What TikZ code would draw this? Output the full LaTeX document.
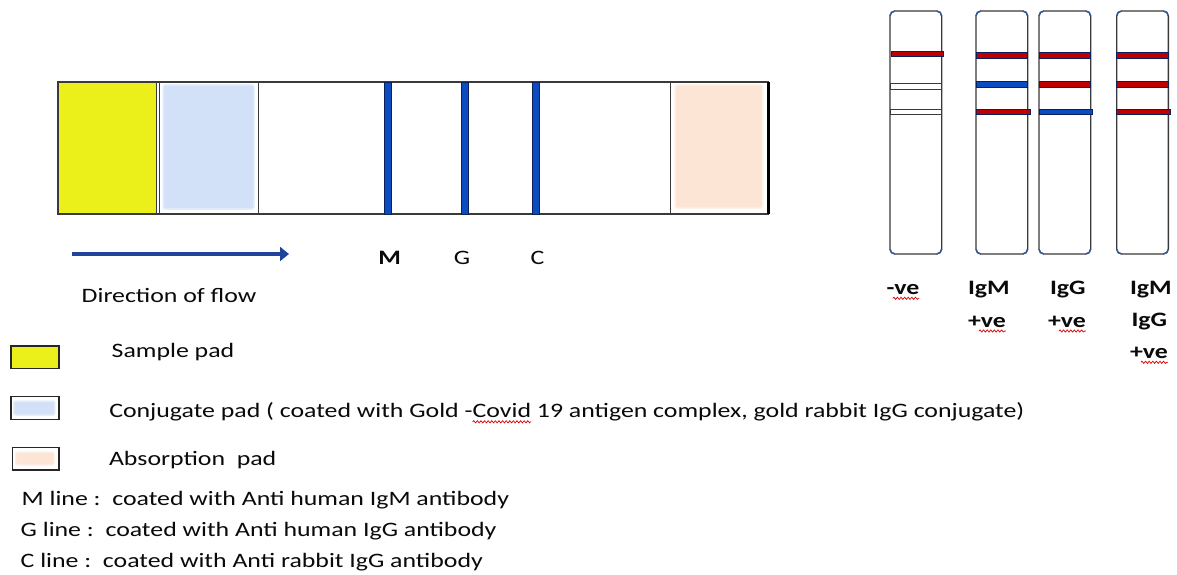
\documentclass[tikz,border=0pt]{standalone}
\usepackage{fontspec}
\setmainfont{Carlito}[FakeStretch=1.26]
\usetikzlibrary{arrows.meta,decorations.pathmorphing,calc}

\definecolor{padyellow}{HTML}{EBF01B}
\definecolor{padblue}{HTML}{D2E1F8}
\definecolor{padpeach}{HTML}{FDE5D5}
\definecolor{lineblue}{HTML}{0B4CC0}
\definecolor{linenavy}{HTML}{0A1F5C}
\definecolor{bandred}{HTML}{C00000}
\definecolor{arrowblue}{HTML}{1F449A}
\definecolor{edgegray}{HTML}{3A3A3A}
\definecolor{cornerblue}{HTML}{2F5AA8}
\definecolor{inktext}{HTML}{0A0A0A}

\begin{document}
\begin{tikzpicture}[x=1pt,y=-1pt,
  txt/.style={anchor=base west, inner sep=0pt, outer sep=0pt, text=inktext,
              font=\fontsize{20.5}{24}\selectfont},
  lbl/.style={txt, font=\fontsize{20.5}{24}\selectfont\bfseries},
  cell/.style={anchor=north west, draw=edgegray, line width=1.2pt, inner sep=0pt,
               outer sep=0pt, minimum height=132},
  softpad/.style={anchor=north west, inner sep=0pt, outer sep=0pt, rounded corners=2pt,
                  draw=#1!55!white, line width=1.5pt, fill=#1},
  testline/.style={fill=lineblue, draw=linenavy, line width=0.8pt, inner sep=0pt,
                   outer sep=0pt, minimum width=7, minimum height=132},
  keybox/.style={anchor=north west, draw=black!85, line width=1.3pt, inner sep=0pt,
                 outer sep=0pt, fill=white},
  flowarrow/.style={draw=arrowblue, line width=4pt,
                    -{Triangle[length=9pt,width=14pt]}},
  teststrip/.style={draw=edgegray, line width=1.3pt, rounded corners=5pt, fill=white,
                    inner sep=0pt, outer sep=0pt, minimum width=51.7, minimum height=243},
  redband/.style={fill=bandred, draw=linenavy, line width=0.8pt},
  blueband/.style={fill=lineblue, draw=linenavy, line width=0.8pt},
  emptyband/.style={fill=white, draw=edgegray, line width=0.9pt},
  squiggle/.style={draw=red!85!black, line width=0.7pt,
                   decorate, decoration={snake, amplitude=1.1pt, segment length=3.6pt}}
]
\useasboundingbox (0,0) rectangle (1177,575);
\fill[white] (0,0) rectangle (1177,575);

% ---------- lateral flow strip ----------
\node[cell, minimum width=710] (strip) at (58,82) {};
\node[cell, fill=padyellow, minimum width=98.5] (sample) at (58,82) {};
\node[cell, minimum width=98.8] (conj) at (159.5,82) {};
\node[softpad=padblue, minimum width=91, minimum height=124] (conjfill) at (163,85) {};
\node[cell, minimum width=97.3] (absorb) at (670.7,82) {};
\node[softpad=padpeach, minimum width=87.7, minimum height=123] (absfill) at (675,85) {};
\draw[black, line width=3pt] (strip.north east) -- (strip.south east);

% capture lines
\node[testline] (mline) at (388,148) {};
\node[testline] (gline) at (464.5,148) {};
\node[testline] (cline) at (535.5,148) {};
\node[lbl, anchor=base] (mlbl) at (389.7,264.3) {M};
\node[txt, anchor=base] (glbl) at (462,264.3) {G};
\node[txt, anchor=base] (clbl) at (537.5,264.3) {C};

% flow direction
\coordinate (flowstart) at (72,254);
\coordinate (flowend) at (289,254);
\draw[flowarrow] (flowstart) -- (flowend);
\node[txt] (flowtxt) at (81.7,302.5) {Direction of flow};

% ---------- legend ----------
\node[keybox, fill=padyellow, minimum width=48, minimum height=22.3] (keysample) at (11,346) {};
\node[keybox, minimum width=48, minimum height=22.6] (keyconj) at (11,396.7) {};
\node[softpad=padblue, minimum width=41, minimum height=14] (keyconjfill) at (13.8,401) {};
\node[keybox, minimum width=46.7, minimum height=22.7] (keyabs) at (12.3,447.3) {};
\node[softpad=padpeach, minimum width=38.5, minimum height=13] (keyabsfill) at (15.5,452) {};

\node[txt] (tsample) at (111.7,357.7) {Sample pad};
\node[txt] (tconj1) at (109.3,417.3) {Conjugate pad ( coated with Gold -};
\node[txt] (tconj2) at (tconj1.base east) {Covid};
\node[txt] (tconj3) at (tconj2.base east) {\ 19 antigen complex, gold rabbit IgG conjugate)};
\draw[squiggle] ($(tconj2.base west)+(0,4.5)$) -- ($(tconj2.base east)+(0,4.5)$);
\node[txt] (tabs) at (109,465) {Absorption\ \ pad};

\node[txt] (tmline) at (21.7,505) {M line :\ \ coated with Anti human IgM antibody};
\node[txt] (tgline) at (20.7,536) {G line :\ \ coated with Anti human IgG antibody};
\node[txt] (tcline) at (20.7,567) {C line :\ \ coated with Anti rabbit IgG antibody};

% ---------- result strips ----------
\foreach \n/\cx in {s1/915.8, s2/1001.8, s3/1064.8, s4/1142.5} {
  \node[teststrip] (\n) at (\cx,132.5) {};
  \begin{scope}
    \clip ($(\n.north west)+(-2,-2)$) rectangle +(7,7)
          ($(\n.north east)+(2,-2)$) rectangle +(-7,7)
          ($(\n.south west)+(-2,2)$) rectangle +(7,-7)
          ($(\n.south east)+(2,2)$) rectangle +(-7,-7);
    \draw[cornerblue, line width=1.4pt, rounded corners=5pt]
      (\n.south west) rectangle (\n.north east);
  \end{scope}
}

% negative: control only
\draw[redband] (891,51.5) rectangle (943,56.5);
\draw[emptyband] (890,83.3) rectangle (941.7,89.3);
\draw[emptyband] (890,109.3) rectangle (941.7,114.3);
% IgM positive
\draw[redband] (976,52.7) rectangle (1027.7,58.3);
\draw[blueband] (976,81.7) rectangle (1027.7,87.3);
\draw[redband] (976,109) rectangle (1030,114.3);
% IgG positive
\draw[redband] (1039,52.7) rectangle (1090.7,58.3);
\draw[redband] (1039,81.7) rectangle (1090.7,87.3);
\draw[blueband] (1039,109) rectangle (1092,114.3);
% IgM and IgG positive
\draw[redband] (1116.7,52.7) rectangle (1168.3,58.3);
\draw[redband] (1116.7,81.7) rectangle (1168.3,87.3);
\draw[redband] (1116.7,109) rectangle (1170,114.3);

% result labels
\node[lbl] (neg) at (886.7,294.3) {-ve};
\node[lbl] (mpos1) at (968,294.3) {IgM};
\node[lbl] (mpos2) at (968,327) {+ve};
\node[lbl] (gpos1) at (1050,294.3) {IgG};
\node[lbl] (gpos2) at (1048,327) {+ve};
\node[lbl] (bpos1) at (1130,294.3) {IgM};
\node[lbl] (bpos2) at (1131.5,326.7) {IgG};
\node[lbl] (bpos3) at (1130,358.3) {+ve};
\draw[squiggle] ($(neg.base west)+(6,4)$) -- ($(neg.base east)+(0,4)$);
\draw[squiggle] ($(mpos2.base east)+(-27,4)$) -- ($(mpos2.base east)+(0,4)$);
\draw[squiggle] ($(gpos2.base east)+(-27,4)$) -- ($(gpos2.base east)+(0,4)$);
\draw[squiggle] ($(bpos3.base east)+(-27,4)$) -- ($(bpos3.base east)+(0,4)$);
\end{tikzpicture}
\end{document}
